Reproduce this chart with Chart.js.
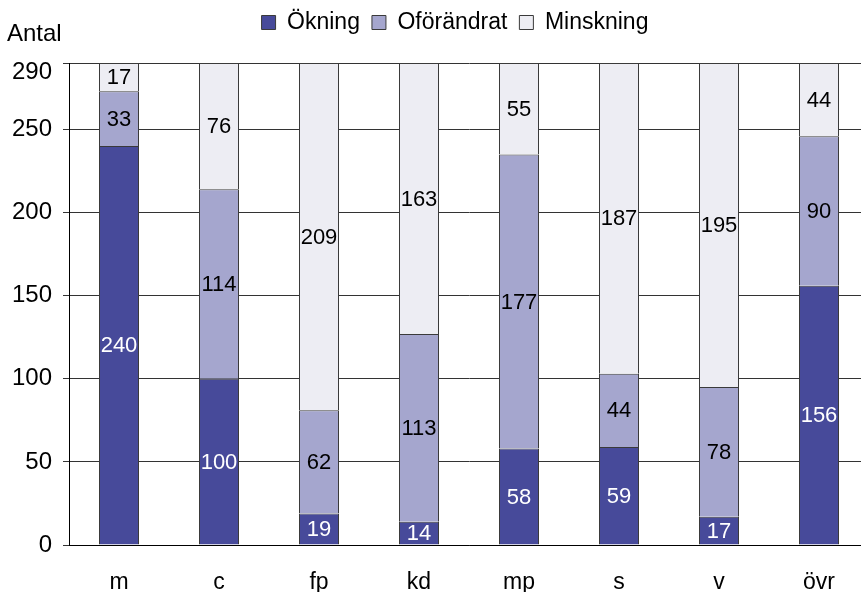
<!DOCTYPE html>
<html><head><meta charset="utf-8">
<script src="https://cdn.jsdelivr.net/npm/chart.js@4.4.0/dist/chart.umd.min.js"></script>
<style>html,body{margin:0;padding:0;overflow:hidden;background:#fff}#wrap{width:880px;height:592px}</style>
</head><body><div id="wrap"><canvas id="c" width="880" height="592"></canvas></div>
<script>
const categories = ['m','c','fp','kd','mp','s','v','övr'];
const okning = [240,100,19,14,58,59,17,156];
const oforandrat = [33,114,62,113,177,44,78,90];
const minskning = [17,76,209,163,55,187,195,44];
const yTicks = [0,50,100,150,200,250,290];
const seriesNames = ['Ökning','Oförändrat','Minskning'];
const yTitle = 'Antal';

const FONT = 'Liberation Sans, Arial, sans-serif';
Chart.defaults.font.family = FONT;
Chart.defaults.font.size = 22;
Chart.defaults.color = '#000';

const fills = ['#474A9A','#A5A6CE','#EDEDF3'];
const seriesData = [okning, oforandrat, minskning];

const layoutPlugin = {
  id: 'layoutTweak',
  beforeLayout(chart) {
    const lg = chart.legend;
    if (lg && !lg._patched) {
      const orig = lg.fit.bind(lg);
      lg.fit = function () { orig(); this.height = 64; };
      lg._patched = true;
    }
  },
  afterLayout(chart) {
    const lg = chart.legend;
    if (lg) { lg.left = 2 * 455 - lg.right; }
  }
};

const textPlugin = {
  id: 'texts',
  afterDraw(chart) {
    const ctx = chart.ctx;
    const ys = chart.scales.y;
    const area = chart.chartArea;
    ctx.save();
    ctx.font = '24px ' + FONT;
    ctx.fillStyle = '#000';
    ctx.textAlign = 'right';
    ctx.textBaseline = 'middle';
    yTicks.forEach(v => {
      const py = Math.max(ys.getPixelForValue(v), area.top + 9);
      ctx.fillText(String(v), area.left - 17, py);
    });
    ctx.textAlign = 'left';
    ctx.fillText(yTitle, 7, 34);
    ctx.restore();
  },
  afterDatasetsDraw(chart) {
    const ctx = chart.ctx;
    ctx.save();
    ctx.font = '22px ' + FONT;
    ctx.textAlign = 'center';
    ctx.textBaseline = 'middle';
    chart.data.datasets.forEach((ds, di) => {
      const meta = chart.getDatasetMeta(di);
      meta.data.forEach((el, i) => {
        const p = el.getProps(['x','y','base'], true);
        ctx.fillStyle = di === 0 ? '#fff' : '#000';
        ctx.fillText(String(ds.data[i]), p.x, (p.y + p.base) / 2 + 1);
      });
    });
    ctx.restore();
  }
};

new Chart(document.getElementById('c'), {
  type: 'bar',
  data: {
    labels: categories,
    datasets: seriesNames.map((n, i) => ({
      label: n,
      data: seriesData[i],
      backgroundColor: fills[i],
      borderColor: '#3a3a3a',
      borderWidth: 1,
      barPercentage: 0.5,
      categoryPercentage: 0.8
    }))
  },
  options: {
    responsive: false,
    animation: false,
    devicePixelRatio: 1,
    layout: { padding: { top: -1, left: 0, right: 11, bottom: 0 } },
    plugins: {
      legend: {
        position: 'top',
        labels: { boxWidth: 14, boxHeight: 14, padding: 12, font: { size: 23, family: FONT }, color: '#000' }
      },
      tooltip: { enabled: false },
      title: { display: false }
    },
    scales: {
      x: {
        stacked: true,
        grid: { display: false, drawTicks: false },
        border: { display: true, color: '#000', width: 1 },
        ticks: { padding: 24, font: { size: 23 }, color: '#000', maxRotation: 0 },
        afterFit(s) { s.height = 47; }
      },
      y: {
        stacked: true,
        min: 0, max: 290,
        afterBuildTicks(s) { s.ticks = yTicks.map(v => ({ value: v })); },
        grid: { color: '#333', lineWidth: 1, drawTicks: true, tickLength: 6 },
        border: { display: true, color: '#000', width: 1 },
        ticks: { display: false },
        afterFit(s) { s.width = 69; }
      }
    }
  },
  plugins: [layoutPlugin, textPlugin]
});
</script>
</body></html>
